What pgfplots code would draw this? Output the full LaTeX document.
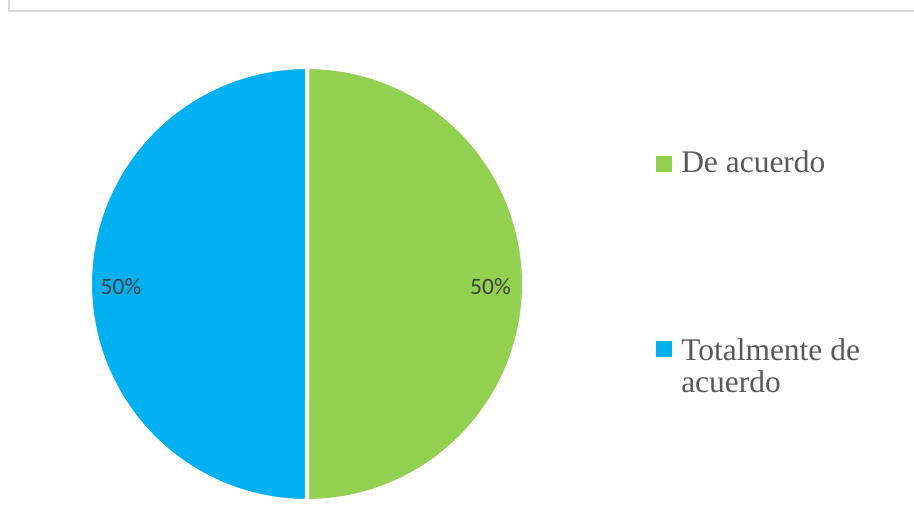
\documentclass[border=0pt]{standalone}
\usepackage{pgfplots}
\usepackage{pgfplotstable}
\pgfplotsset{compat=1.18}
\usepackage{fontspec}
\setmainfont{Liberation Serif}
\newfontfamily\carlito{Carlito}
\definecolor{pgreen}{HTML}{92D050}
\definecolor{pblue}{HTML}{00B0F0}
\definecolor{lbl}{HTML}{404040}
\definecolor{leg}{HTML}{595959}
\definecolor{frame}{HTML}{D9D9D9}

\pgfplotstableread{
label value
{De acuerdo} 50
{Totalmente de acuerdo} 50
}\datatable

\begin{document}
\begin{tikzpicture}
\pgfplotstablegetelem{0}{value}\of\datatable \let\va\pgfplotsretval
\pgfplotstablegetelem{1}{value}\of\datatable \let\vb\pgfplotsretval
\pgfmathsetmacro{\fa}{\va/(\va+\vb)}
\pgfmathsetmacro{\fb}{\vb/(\va+\vb)}
\pgfmathsetmacro{\angA}{90-360*\fa}
\pgfmathsetmacro{\angB}{\angA-360*\fb}
\pgfmathsetmacro{\pa}{100*\fa}
\pgfmathsetmacro{\pb}{100*\fb}
\path[use as bounding box] (0,0) rectangle (685.5pt,386.25pt);
\begin{axis}[
  scale only axis, width=685.5pt, height=386.25pt,
  xmin=0, xmax=914, ymin=0, ymax=515,
  hide axis, clip=false,
]
% frame
\draw[frame, line width=1.5pt] (axis cs:9,515) -- (axis cs:9,504) -- (axis cs:914,504);
% pie sectors
\addplot[fill=pgreen, draw=white, line width=3pt, domain=\angA:90, samples=150]
  ({307+217*cos(x)},{231+217*sin(x)}) -- (axis cs:307,231) -- cycle;
\addplot[fill=pblue, draw=white, line width=3pt, domain=\angB:\angA, samples=150]
  ({307+217*cos(x)},{231+217*sin(x)}) -- (axis cs:307,231) -- cycle;
% data labels
\node[anchor=base, font=\carlito\fontsize{17.6pt}{20pt}\selectfont, text=lbl, inner sep=0pt]
  at (axis cs:490.5,220.5) {\pgfmathprintnumber[fixed,precision=0,assume math mode=true]{\pa}\%};
\node[anchor=base, font=\carlito\fontsize{17.6pt}{20pt}\selectfont, text=lbl, inner sep=0pt]
  at (axis cs:121,220.5) {\pgfmathprintnumber[fixed,precision=0,assume math mode=true]{\pb}\%};
% legend
\node[fill=pgreen, minimum size=12pt, inner sep=0pt] at (axis cs:664,351) {};
\node[anchor=base west, inner sep=0pt, text=leg, font=\fontsize{23.6pt}{24pt}\selectfont]
  at (axis cs:681,342) {De acuerdo};
\node[fill=pblue, minimum size=12pt, inner sep=0pt] at (axis cs:664,166) {};
\node[anchor=base west, inner sep=0pt, text=leg, font=\fontsize{23.6pt}{24pt}\selectfont]
  at (axis cs:681,155) {Totalmente de};
\node[anchor=base west, inner sep=0pt, text=leg, font=\fontsize{23.6pt}{24pt}\selectfont]
  at (axis cs:681,123) {acuerdo};
\end{axis}
\end{tikzpicture}
\end{document}
